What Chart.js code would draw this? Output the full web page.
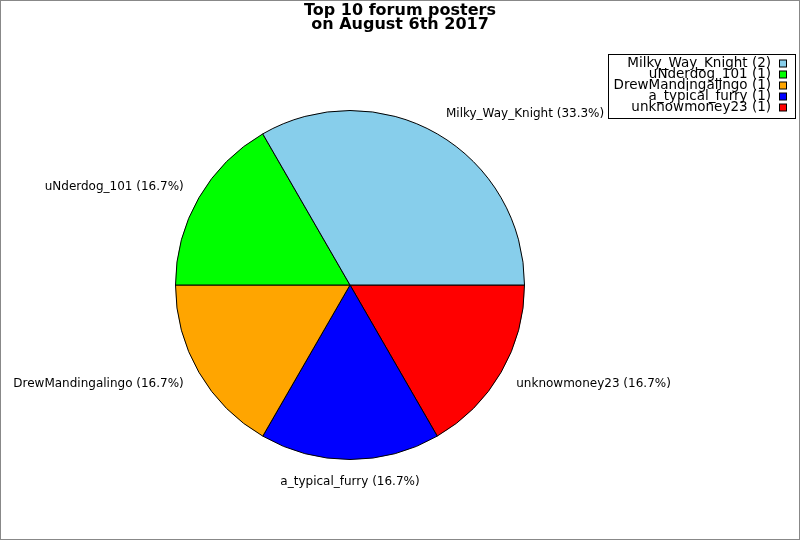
<!DOCTYPE html>
<html><head><meta charset="utf-8">
<script src="https://cdn.jsdelivr.net/npm/chart.js@4"></script>
<style>html,body{margin:0;padding:0;background:#fff}canvas{display:block}</style>
</head><body>
<canvas id="c" width="800" height="540"></canvas>
<script>
const titleLines = ["Top 10 forum posters", "on August 6th 2017"];
const categories = ["Milky_Way_Knight", "uNderdog_101", "DrewMandingalingo", "a_typical_furry", "unknowmoney23"];
const counts = [2, 1, 1, 1, 1];
const colors = ["#87CEEB", "#00FF00", "#FFA500", "#0000FF", "#FF0000"];

const total = counts.reduce((a, b) => a + b, 0);
// Chart.js draws clockwise; reverse so slices run counter-clockwise from 3 o'clock
const rLabels = categories.slice().reverse();
const rCounts = counts.slice().reverse();
const rColors = colors.slice().reverse();

const FONT = '"DejaVu Sans", sans-serif';

const deco = {
  id: 'deco',
  beforeDraw(chart) {
    const ctx = chart.ctx;
    ctx.save();
    ctx.fillStyle = '#fff';
    ctx.fillRect(0, 0, chart.width, chart.height);
    ctx.restore();
  },
  afterDraw(chart) {
    const ctx = chart.ctx;
    ctx.save();
    // outer border
    ctx.strokeStyle = '#888';
    ctx.lineWidth = 1;
    ctx.strokeRect(0.5, 0.5, chart.width - 1, chart.height - 1);
    // title
    ctx.fillStyle = '#000';
    ctx.font = 'bold 16px ' + FONT;
    ctx.textAlign = 'center';
    ctx.textBaseline = 'middle';
    ctx.fillText(titleLines[0], 400, 10.5);
    ctx.fillText(titleLines[1], 400, 24.5);
    // slice labels
    const meta = chart.getDatasetMeta(0);
    ctx.font = '12px ' + FONT;
    meta.data.forEach((arc, i) => {
      const mid = (arc.startAngle + arc.endAngle) / 2;
      const x = arc.x + Math.cos(mid) * arc.outerRadius * 1.1;
      const y = arc.y + Math.sin(mid) * arc.outerRadius * 1.13;
      const pct = (rCounts[i] / total * 100).toFixed(1);
      const dx = x - arc.x;
      ctx.textAlign = Math.abs(dx) < 2 ? 'center' : (dx > 0 ? 'left' : 'right');
      ctx.textBaseline = 'middle';
      ctx.fillStyle = '#000';
      ctx.fillText(rLabels[i] + ' (' + pct + '%)', x, y);
    });
    // legend
    ctx.strokeStyle = '#000';
    ctx.fillStyle = '#fff';
    ctx.fillRect(608.5, 54.5, 187, 64);
    ctx.strokeRect(608.5, 54.5, 187, 64);
    ctx.font = '13.5px ' + FONT;
    ctx.textAlign = 'right';
    ctx.textBaseline = 'middle';
    categories.forEach((c, i) => {
      const y = 63.5 + i * 11;
      ctx.fillStyle = '#000';
      ctx.fillText(c + ' (' + counts[i] + ')', 771, y);
      ctx.fillStyle = colors[i];
      ctx.fillRect(779.5, y - 3.5, 7, 7);
      ctx.strokeRect(779.5, y - 3.5, 7, 7);
    });
    ctx.restore();
  }
};

new Chart(document.getElementById('c'), {
  type: 'pie',
  data: {
    labels: rLabels,
    datasets: [{
      data: rCounts,
      backgroundColor: rColors,
      borderColor: '#000',
      borderWidth: 1
    }]
  },
  options: {
    responsive: false,
    devicePixelRatio: 1,
    animation: false,
    rotation: 90,
    layout: { padding: { left: 175, right: 275, top: 110, bottom: 80 } },
    plugins: { legend: { display: false }, tooltip: { enabled: false }, title: { display: false } }
  },
  plugins: [deco]
});
</script>
</body></html>
